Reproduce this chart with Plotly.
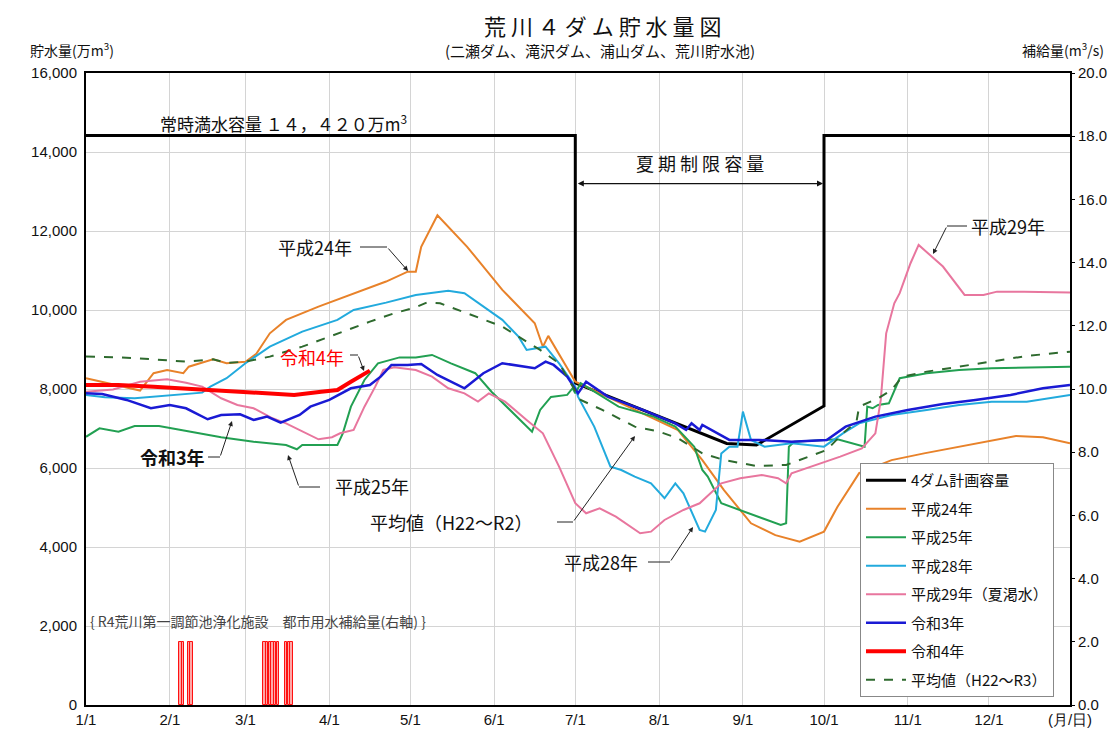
import plotly.graph_objects as go

YEAR = 2022


def d(s):
    m, dd = s.split("/")
    return f"{YEAR}-{int(m):02d}-{int(dd):02d}"


# ---------------- data ----------------
month_ticks = ["1/1", "2/1", "3/1", "4/1", "5/1", "6/1", "7/1", "8/1", "9/1", "10/1", "11/1", "12/1"]
tick_labels = month_ticks + ["(月/日)"]

plan_dates = ["1/1", "7/1", "7/1", "8/26", "9/6", "10/1", "10/1", "12/31"]
plan_vals = [14420, 14420, 8150, 6620, 6580, 7570, 14420, 14420]

h24_dates = ["1/1", "1/21", "1/26", "1/31", "2/6", "2/8", "2/17", "2/22", "3/1", "3/5", "3/10", "3/16", "3/28",
             "4/10", "4/22", "4/30", "5/3", "5/5", "5/11", "5/22", "6/4", "6/16", "6/19", "6/21", "7/1", "8/8",
             "8/17", "8/25", "9/4", "9/13", "9/22", "10/1", "10/6", "10/14", "10/26", "11/7", "11/20", "12/2",
             "12/11", "12/21", "12/31"]
h24_vals = [8270, 7960, 8400, 8480, 8400, 8565, 8750, 8650, 8690, 8890, 9410, 9750, 10085,
            10425, 10720, 10970, 10970, 11600, 12400, 11600, 10510, 9665, 9070, 9345, 8185, 6960,
            6200, 5440, 4600, 4300, 4135, 4390, 5020, 5870, 6200, 6370, 6540, 6710,
            6810, 6780, 6625]

h25_dates = ["1/1", "1/6", "1/13", "1/19", "1/28", "2/7", "2/20", "3/4", "3/16", "3/20", "3/22", "4/4", "4/6",
             "4/9", "4/14", "4/19", "4/27", "5/3", "5/9", "5/16", "5/25", "5/31", "6/7", "6/15", "6/18", "6/22",
             "6/28", "6/30", "7/1", "7/3", "7/17", "7/30", "8/7", "8/14", "8/17", "8/19", "8/24", "8/29", "9/7",
             "9/15", "9/17", "9/18", "9/20", "10/1", "10/6", "10/16", "10/17", "10/19", "10/21", "10/25",
             "10/27", "10/29", "11/8", "11/20", "12/2", "12/31"]
h25_vals = [6790, 7005, 6920, 7064, 7064, 6945, 6778, 6667, 6583, 6474, 6583, 6583, 6878,
            7553, 8229, 8650, 8800, 8800, 8862, 8650, 8400, 7930, 7470, 6920, 7470, 7800,
            7850, 8020, 7890, 8145, 7553, 7300, 7047, 6540, 5950, 5781, 5107, 4980, 4768,
            4558, 4600, 6540, 6667, 6710, 6727, 6540, 7553, 7512, 7596, 7638,
            7976, 8272, 8400, 8482, 8525, 8566]

h28_dates = ["1/1", "1/8", "1/19", "1/26", "2/13", "2/16", "2/22", "3/1", "3/10", "3/22", "4/4", "4/10", "4/22",
             "5/3", "5/15", "5/21", "5/28", "6/4", "6/10", "6/13", "6/20", "6/25", "7/1", "7/2", "7/8", "7/14",
             "7/18", "7/23", "7/29", "8/3", "8/7", "8/10", "8/16", "8/18", "8/22", "8/24", "8/27", "8/30", "9/1",
             "9/4", "9/9", "9/19", "10/1", "10/8", "10/14", "10/26", "11/8", "11/20", "12/2", "12/15", "12/31"]
h28_vals = [7850, 7790, 7765, 7807, 7908, 8060, 8272, 8652, 9072, 9453, 9750, 10001, 10187,
            10381, 10490, 10425, 10085, 9750, 9325, 8990, 9072, 8650, 8060, 7807, 7047, 6034,
            5950, 5780, 5613, 5234, 5613, 5360, 4430, 4388, 4937, 6370, 6540, 6540, 7427,
            6710, 6540, 6625, 6540, 6878, 7131, 7343, 7470, 7596, 7680, 7680, 7850]

h29_dates = ["1/1", "1/11", "1/21", "1/31", "2/7", "2/13", "2/20", "2/26", "3/4", "3/11", "3/16", "3/22", "3/28",
             "4/2", "4/5", "4/10", "4/14", "4/18", "4/21", "4/25", "5/3", "5/9", "5/15", "5/21", "5/26", "5/30",
             "6/5", "6/13", "6/19", "6/25", "7/1", "7/5", "7/10", "7/16", "7/25", "7/29", "8/3", "8/10", "8/16",
             "8/20", "8/24", "8/31", "9/8", "9/14", "9/17", "9/19", "10/2", "10/7", "10/15", "10/20", "10/22",
             "10/24", "10/27", "10/29", "11/2", "11/5", "11/14", "11/22", "11/29", "12/4", "12/14", "12/31"]
h29_vals = [7930, 7990, 8185, 8247, 8160, 8060, 7765, 7596, 7512, 7259, 7131, 6920, 6727,
            6778, 6878, 6963, 7553, 8060, 8482, 8550, 8482, 8313, 8018, 7890, 7680, 7890,
            7680, 7216, 6878, 6034, 5107, 4854, 4980, 4768, 4347, 4388, 4684, 4937, 5107,
            5360, 5613, 5740, 5824, 5740, 5613, 5866, 6160, 6287, 6498, 6878, 7723,
            9410, 10170, 10425, 11184, 11648, 11100, 10381, 10381, 10465, 10465, 10440]

r3_dates = ["1/1", "1/7", "1/16", "1/25", "2/1", "2/7", "2/15", "2/20", "2/27", "3/4", "3/9", "3/14", "3/21",
            "3/25", "4/1", "4/9", "4/16", "4/20", "4/24", "4/30", "5/5", "5/11", "5/21", "5/28", "6/4", "6/16",
            "6/20", "6/23", "6/28", "7/2", "7/5", "7/13", "7/26", "8/7", "8/11", "8/13", "8/16", "8/17", "8/27",
            "9/7", "9/19", "10/2", "10/9", "10/20", "11/1", "11/14", "11/26", "12/9", "12/21", "12/31"]
r3_vals = [7890, 7875, 7723, 7512, 7596, 7512, 7234, 7343, 7360, 7216, 7300, 7148, 7343,
           7553, 7723, 8018, 8102, 8313, 8609, 8609, 8634, 8356, 8018, 8400, 8652, 8525,
           8694, 8609, 8313, 7890, 8185, 7807, 7470, 7131, 6963, 7131, 6963, 7090, 6710,
           6710, 6667, 6710, 7047, 7300, 7470, 7621, 7723, 7850, 8018, 8102]

r4_dates = ["1/1", "1/13", "1/26", "2/13", "3/4", "3/19", "3/29", "4/4", "4/9", "4/16"]
r4_vals = [8100, 8100, 8060, 7993, 7930, 7850, 7930, 7976, 8185, 8465]

avg_dates = ["1/1", "1/13", "1/26", "2/7", "2/17", "2/22", "3/1", "3/10", "3/22", "4/4", "4/16", "4/25", "5/3",
             "5/7", "5/12", "5/22", "6/4", "6/10", "6/18", "6/25", "6/30", "7/3", "7/11", "7/23", "8/1", "8/8",
             "8/17", "8/25", "9/6", "9/17", "10/2", "10/8", "10/13", "10/14", "10/21", "10/26", "10/30", "11/8",
             "11/20", "12/2", "12/15", "12/31"]
avg_vals = [8820, 8800, 8750, 8693, 8750, 8660, 8693, 8820, 9072, 9410, 9705, 9917, 10069,
            10187, 10170, 9917, 9580, 9325, 8990, 8652, 8060, 7723, 7470, 7047, 6920, 6752,
            6372, 6203, 6051, 6077, 6457, 6878, 7173, 7553, 7765, 7976, 8313, 8440,
            8566, 8693, 8837, 8946]

supply_dates = ["2/5", "2/6", "2/8", "2/9", "3/8", "3/9", "3/10", "3/11", "3/12", "3/13", "3/16", "3/17", "3/18"]
supply_vals = [2.0] * len(supply_dates)

# ---------------- figure ----------------
JP = "Noto Sans CJK JP"
NUM = "Liberation Sans"

fig = go.Figure()

fig.add_trace(go.Bar(x=[d(s) for s in supply_dates], y=supply_vals, yaxis="y2", width=86400000 * 0.85,
                     marker=dict(color="rgba(255,150,150,0.85)", line=dict(color="#FF1010", width=1)),
                     showlegend=False))

series = [
    ("4ダム計画容量", plan_dates, plan_vals, "#000000", 3, "solid"),
    ("平成24年", h24_dates, h24_vals, "#E8822A", 2, "solid"),
    ("平成25年", h25_dates, h25_vals, "#22A052", 2, "solid"),
    ("平成28年", h28_dates, h28_vals, "#22AADD", 2, "solid"),
    ("平成29年（夏渇水）", h29_dates, h29_vals, "#E8769E", 2, "solid"),
    ("令和3年", r3_dates, r3_vals, "#1A1AD4", 2.5, "solid"),
    ("令和4年", r4_dates, r4_vals, "#FF0000", 4, "solid"),
    ("平均値（H22～R3）", avg_dates, avg_vals, "#2E6A2E", 2, "dash"),
]
for i, (name, xs, ys, col, w, dash) in enumerate(series):
    fig.add_trace(go.Scatter(x=[d(s) for s in xs], y=ys, mode="lines", name=name,
                             legendgroup=f"g{i}", legendrank=i + 1,
                             line=dict(color=col, width=w, dash=dash)))

# page pixel -> paper coordinates (plot area spans x 86..1070, y 73..705 on the page)
def PX(x):
    return (x - 86) / 984


def PY(y):
    return (705 - y) / 632


ann = []
shapes = []


def text(x, y, t, size=18, color="#111", anchor="center", bold=False, family=JP):
    if bold:
        t = f"<b>{t}</b>"
    ann.append(dict(x=PX(x), y=PY(y), xref="paper", yref="paper", text=t, showarrow=False,
                    xanchor=anchor, yanchor="middle", font=dict(size=size, color=color, family=family)))


def pointer(x0, x1, y, hx, hy):
    shapes.append(dict(type="line", xref="paper", yref="paper", x0=PX(x0), x1=PX(x1), y0=PY(y), y1=PY(y),
                       line=dict(color="#222", width=1)))
    ann.append(dict(x=PX(hx), y=PY(hy), xref="paper", yref="paper", text="", showarrow=True,
                    ax=x1 - hx, ay=y - hy, arrowhead=2, arrowsize=1, arrowwidth=1, arrowcolor="#222",
                    standoff=0, startstandoff=0))


# titles
text(602, 25, "荒 川 ４ ダ ム 貯 水 量 図", size=22)
text(600, 50, "(二瀬ダム、滝沢ダム、浦山ダム、荒川貯水池)", size=15)
text(72, 49, "貯水量(万m<sup>3</sup>)", size=14)
text(1063, 49, "補給量(m<sup>3</sup>/s)", size=14)

# reference texts
text(158, 123, "常時満水容量 １４，４２０万m<sup>3</sup>", size=17, anchor="left")
text(700, 163, "夏 期 制 限 容 量", size=18)
ann.append(dict(x=d("10/1"), y=13200, ax=d("7/1"), ay=13200, xref="x", yref="y", axref="x", ayref="y",
                text="", showarrow=True, arrowhead=2, arrowside="end+start", arrowsize=1, arrowwidth=1.2,
                arrowcolor="#111", standoff=1, startstandoff=1))

# series labels
text(315, 247, "平成24年", size=18)
pointer(360, 387, 247, 408, 271)
text(1008, 226, "平成29年", size=18)
pointer(967, 947, 226, 933, 254)
text(312, 357, "令和4年", size=18, color="#FF0000")
pointer(350, 358, 355, 364, 371)
text(172, 457, "令和3年", size=18, bold=True)
pointer(208, 220, 457, 232, 421)
text(372, 486, "平成25年", size=18)
pointer(320, 299, 487, 288, 455)
text(535, 522, "平均値（H22～R2）", size=18, anchor="right")
pointer(557, 573, 522, 635, 436)
text(601, 562, "平成28年", size=18)
pointer(648, 670, 562, 693, 527)

text(88, 621, "{ R4荒川第一調節池浄化施設　都市用水補給量(右軸) }", size=14, color="#444", anchor="left")

grid = "#d4d4d4"
# the page body has an 8px margin, so the figure is 8px smaller with reduced left/top margins
fig.update_layout(
    width=1112, height=730,
    margin=dict(l=78, r=50, t=65, b=33, autoexpand=False),
    paper_bgcolor="white", plot_bgcolor="white",
    font=dict(family=JP, color="#111"),
    showlegend=True,
    legend=dict(x=PX(860), y=PY(463), xanchor="left", yanchor="top", bgcolor="white",
                bordercolor="#888", borderwidth=1, font=dict(size=15, family=JP), tracegroupgap=6,
                itemwidth=40),
    xaxis=dict(type="date", range=[d("1/1"), d("12/31")], tickvals=[d(s) for s in month_ticks] + [d("12/31")],
               ticktext=tick_labels, showgrid=True, gridcolor=grid, gridwidth=1, automargin=False,
               showline=True, linecolor="black", linewidth=2, mirror=True, ticks="",
               tickfont=dict(size=15, family=NUM), zeroline=False),
    yaxis=dict(range=[0, 16000], dtick=2000, tickformat=",", showgrid=True, gridcolor=grid, automargin=False,
               showline=True, linecolor="black", linewidth=2, mirror=True, ticks="",
               tickfont=dict(size=15, family=NUM), zeroline=False, ticklabelstandoff=4),
    yaxis2=dict(range=[0, 20], dtick=2, tickformat=".1f", overlaying="y", side="right", showgrid=False,
                ticks="outside", ticklen=4, tickcolor="black", tickfont=dict(size=15, family=NUM),
                zeroline=False, showline=False, automargin=False),
    bargap=0,
    annotations=ann,
    shapes=shapes,
)

fig.write_html("out.html")
